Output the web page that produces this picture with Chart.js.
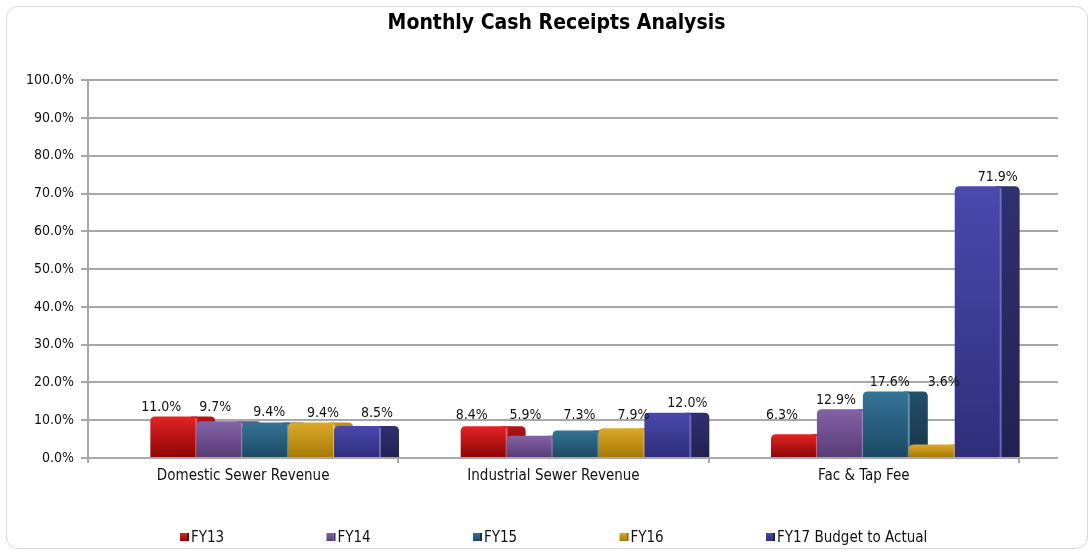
<!DOCTYPE html>
<html>
<head>
<meta charset="utf-8">
<script src="https://cdn.jsdelivr.net/npm/chart.js@4/dist/chart.umd.min.js"></script>
<style>
  html, body { margin: 0; padding: 0; background: #ffffff; }
  #wrap { position: relative; width: 1091px; height: 551px; overflow: hidden; background: #fff; }
  #frame { position: absolute; left: 6px; top: 6px; width: 1082px; height: 543px; border: 1px solid #d9d9d9; border-radius: 12px; box-sizing: border-box; pointer-events: none; }
  canvas { position: absolute; left: 0; top: 0; }
</style>
</head>
<body>
<div id="wrap">
  <div id="frame"></div>
  <canvas id="c" width="1091" height="551"></canvas>
</div>
<script>
// ---- data ----
const categories = ['Domestic Sewer Revenue', 'Industrial Sewer Revenue', 'Fac & Tap Fee'];
const seriesNames = ['FY13', 'FY14', 'FY15', 'FY16', 'FY17 Budget to Actual'];
const fy13 = [11.0, 8.4, 6.3];
const fy14 = [9.7, 5.9, 12.9];
const fy15 = [9.4, 7.3, 17.6];
const fy16 = [9.4, 7.9, 3.6];
const fy17 = [8.5, 12.0, 71.9];
const yMin = 0, yMax = 100, yStep = 10;

// ---- styles ----
const FONT = "'DejaVu Sans Condensed', 'DejaVu Sans', sans-serif";
const palette = [
  { top: '#e32424', bottom: '#8c0505', sideTop: '#b51515', sideBottom: '#6e0303', hi: 'rgba(255,120,120,0.7)' },
  { top: '#8462a6', bottom: '#573c76', sideTop: '#654a87', sideBottom: '#45305e', hi: 'rgba(190,160,220,0.7)' },
  { top: '#347496', bottom: '#1c4964', sideTop: '#22506b', sideBottom: '#173447', hi: 'rgba(120,170,200,0.7)' },
  { top: '#dcaa2a', bottom: '#a77a06', sideTop: '#c0901a', sideBottom: '#8c6504', hi: 'rgba(250,210,110,0.7)' },
  { top: '#4a49ad', bottom: '#2f2e7a', sideTop: '#313070', sideBottom: '#222152', hi: 'rgba(130,130,220,0.7)' }
];
const GRID = '#a8a8a8';
const SHIFT = 22, DEPTH = 19, RADIUS = 5;

const seriesValues = [fy13, fy14, fy15, fy16, fy17];

function roundTopRect(ctx, x, y, w, h, rl, rr) {
  rl = Math.min(rl, h, w / 2); rr = Math.min(rr, h, w / 2);
  ctx.beginPath();
  ctx.moveTo(x, y + h);
  ctx.lineTo(x, y + rl);
  ctx.quadraticCurveTo(x, y, x + rl, y);
  ctx.lineTo(x + w - rr, y);
  ctx.quadraticCurveTo(x + w, y, x + w, y + rr);
  ctx.lineTo(x + w, y + h);
  ctx.closePath();
}

const bars3d = {
  id: 'bars3d',
  beforeDatasetsDraw(chart) {
    const ctx = chart.ctx, ys = chart.scales.y, a = chart.chartArea;
    ctx.save();
    ctx.strokeStyle = GRID; ctx.lineWidth = 2;
    ys.ticks.forEach(t => {
      const py = Math.round(ys.getPixelForValue(t.value));
      ctx.beginPath(); ctx.moveTo(a.right, py); ctx.lineTo(a.right + 39, py); ctx.stroke();
    });
    ctx.restore();
  },
  afterDatasetsDraw(chart) {
    const ctx = chart.ctx;
    ctx.save();
    chart.data.datasets.forEach((ds, di) => {
      const meta = chart.getDatasetMeta(di);
      const p = palette[di];
      meta.data.forEach((el) => {
        const { x, y, base, width } = el.getProps(['x', 'y', 'base', 'width'], true);
        const left = x - width / 2 + SHIFT;
        const h = base - y;
        if (h <= 0) return;
        let g = ctx.createLinearGradient(0, y, 0, base);
        g.addColorStop(0, p.sideTop); g.addColorStop(1, p.sideBottom);
        ctx.fillStyle = g;
        roundTopRect(ctx, left + width - RADIUS, y, DEPTH + RADIUS, h, 0, RADIUS);
        ctx.fill();
        g = ctx.createLinearGradient(0, y, 0, base);
        g.addColorStop(0, p.top); g.addColorStop(1, p.bottom);
        ctx.fillStyle = g;
        roundTopRect(ctx, left, y, width, h, RADIUS, 0);
        ctx.fill();
        ctx.fillStyle = p.hi;
        ctx.fillRect(left + width - 1, y + 2, 2, h - 2);
      });
    });
    ctx.fillStyle = '#111';
    ctx.font = '14px ' + FONT;
    ctx.textAlign = 'center';
    ctx.textBaseline = 'middle';
    const ys = chart.scales.y;
    chart.data.datasets.forEach((ds, di) => {
      const meta = chart.getDatasetMeta(di);
      meta.data.forEach((el, i) => {
        const v = ds.data[i];
        const prev = di > 0 ? chart.data.datasets[di - 1].data[i] : v;
        const ref = Math.max(v, prev);
        const ly = Math.min(ys.getPixelForValue(ref) - 9, 415);
        const lx = el.x + 26 + (di - 2) * 8;
        ctx.fillText(v.toFixed(1) + '%', lx, ly);
      });
    });
    ctx.restore();
  },
  afterDraw(chart) {
    const ctx = chart.ctx;
    ctx.save();
    ctx.font = '15px ' + FONT;
    ctx.textBaseline = 'middle';
    ctx.textAlign = 'left';
    const ly = 537;
    chart.data.datasets.forEach((ds, i) => {
      const mx = 180 + i * 146.5;
      const p = palette[i];
      const g = ctx.createLinearGradient(0, ly - 4, 0, ly + 4);
      g.addColorStop(0, p.top); g.addColorStop(1, p.bottom);
      ctx.fillStyle = g;
      ctx.fillRect(mx, ly - 4, 7, 8);
      ctx.fillStyle = p.sideBottom;
      ctx.fillRect(mx + 7, ly - 4, 2, 8);
      ctx.fillStyle = '#111';
      ctx.fillText(ds.label, mx + 11, ly + 1);
    });
    ctx.restore();
  }
};

Chart.defaults.font.family = FONT;
Chart.defaults.color = '#111';

new Chart(document.getElementById('c'), {
  type: 'bar',
  data: {
    labels: categories,
    datasets: seriesNames.map((name, i) => ({
      label: name,
      data: seriesValues[i],
      backgroundColor: 'rgba(0,0,0,0)',
      borderWidth: 0,
      categoryPercentage: 0.74,
      barPercentage: 1.0
    }))
  },
  options: {
    responsive: false,
    animation: false,
    devicePixelRatio: 1,
    layout: { padding: { left: 22, right: 0, top: 0, bottom: 43 } },
    plugins: {
      legend: { display: false },
      tooltip: { enabled: false },
      title: {
        display: true,
        text: 'Monthly Cash Receipts Analysis',
        font: { family: FONT, size: 21, weight: 'bold' },
        color: '#000',
        padding: { top: 11, bottom: 44 }
      }
    },
    scales: {
      x: {
        grid: { display: true, drawOnChartArea: false, drawTicks: true, tickLength: 5, color: GRID, lineWidth: 2, offset: true },
        border: { display: true, color: GRID, width: 2 },
        ticks: { font: { size: 15, family: FONT }, color: '#111', padding: 4, maxRotation: 0 },
        afterFit(s) { s.height = 50; }
      },
      y: {
        min: yMin, max: yMax,
        grid: { color: GRID, lineWidth: 2, tickLength: 7 },
        border: { display: true, color: GRID, width: 2 },
        ticks: {
          stepSize: yStep,
          font: { size: 14, family: FONT },
          color: '#111',
          padding: 7,
          callback: v => Number(v).toFixed(1) + '%'
        },
        afterFit(s) { s.width = 66; }
      },
      yDepth: {
        position: 'right',
        display: true,
        grid: { display: false, drawOnChartArea: false },
        border: { display: false },
        ticks: { display: false },
        afterFit(s) { s.width = 72; }
      }
    }
  },
  plugins: [bars3d]
});
</script>
</body>
</html>
